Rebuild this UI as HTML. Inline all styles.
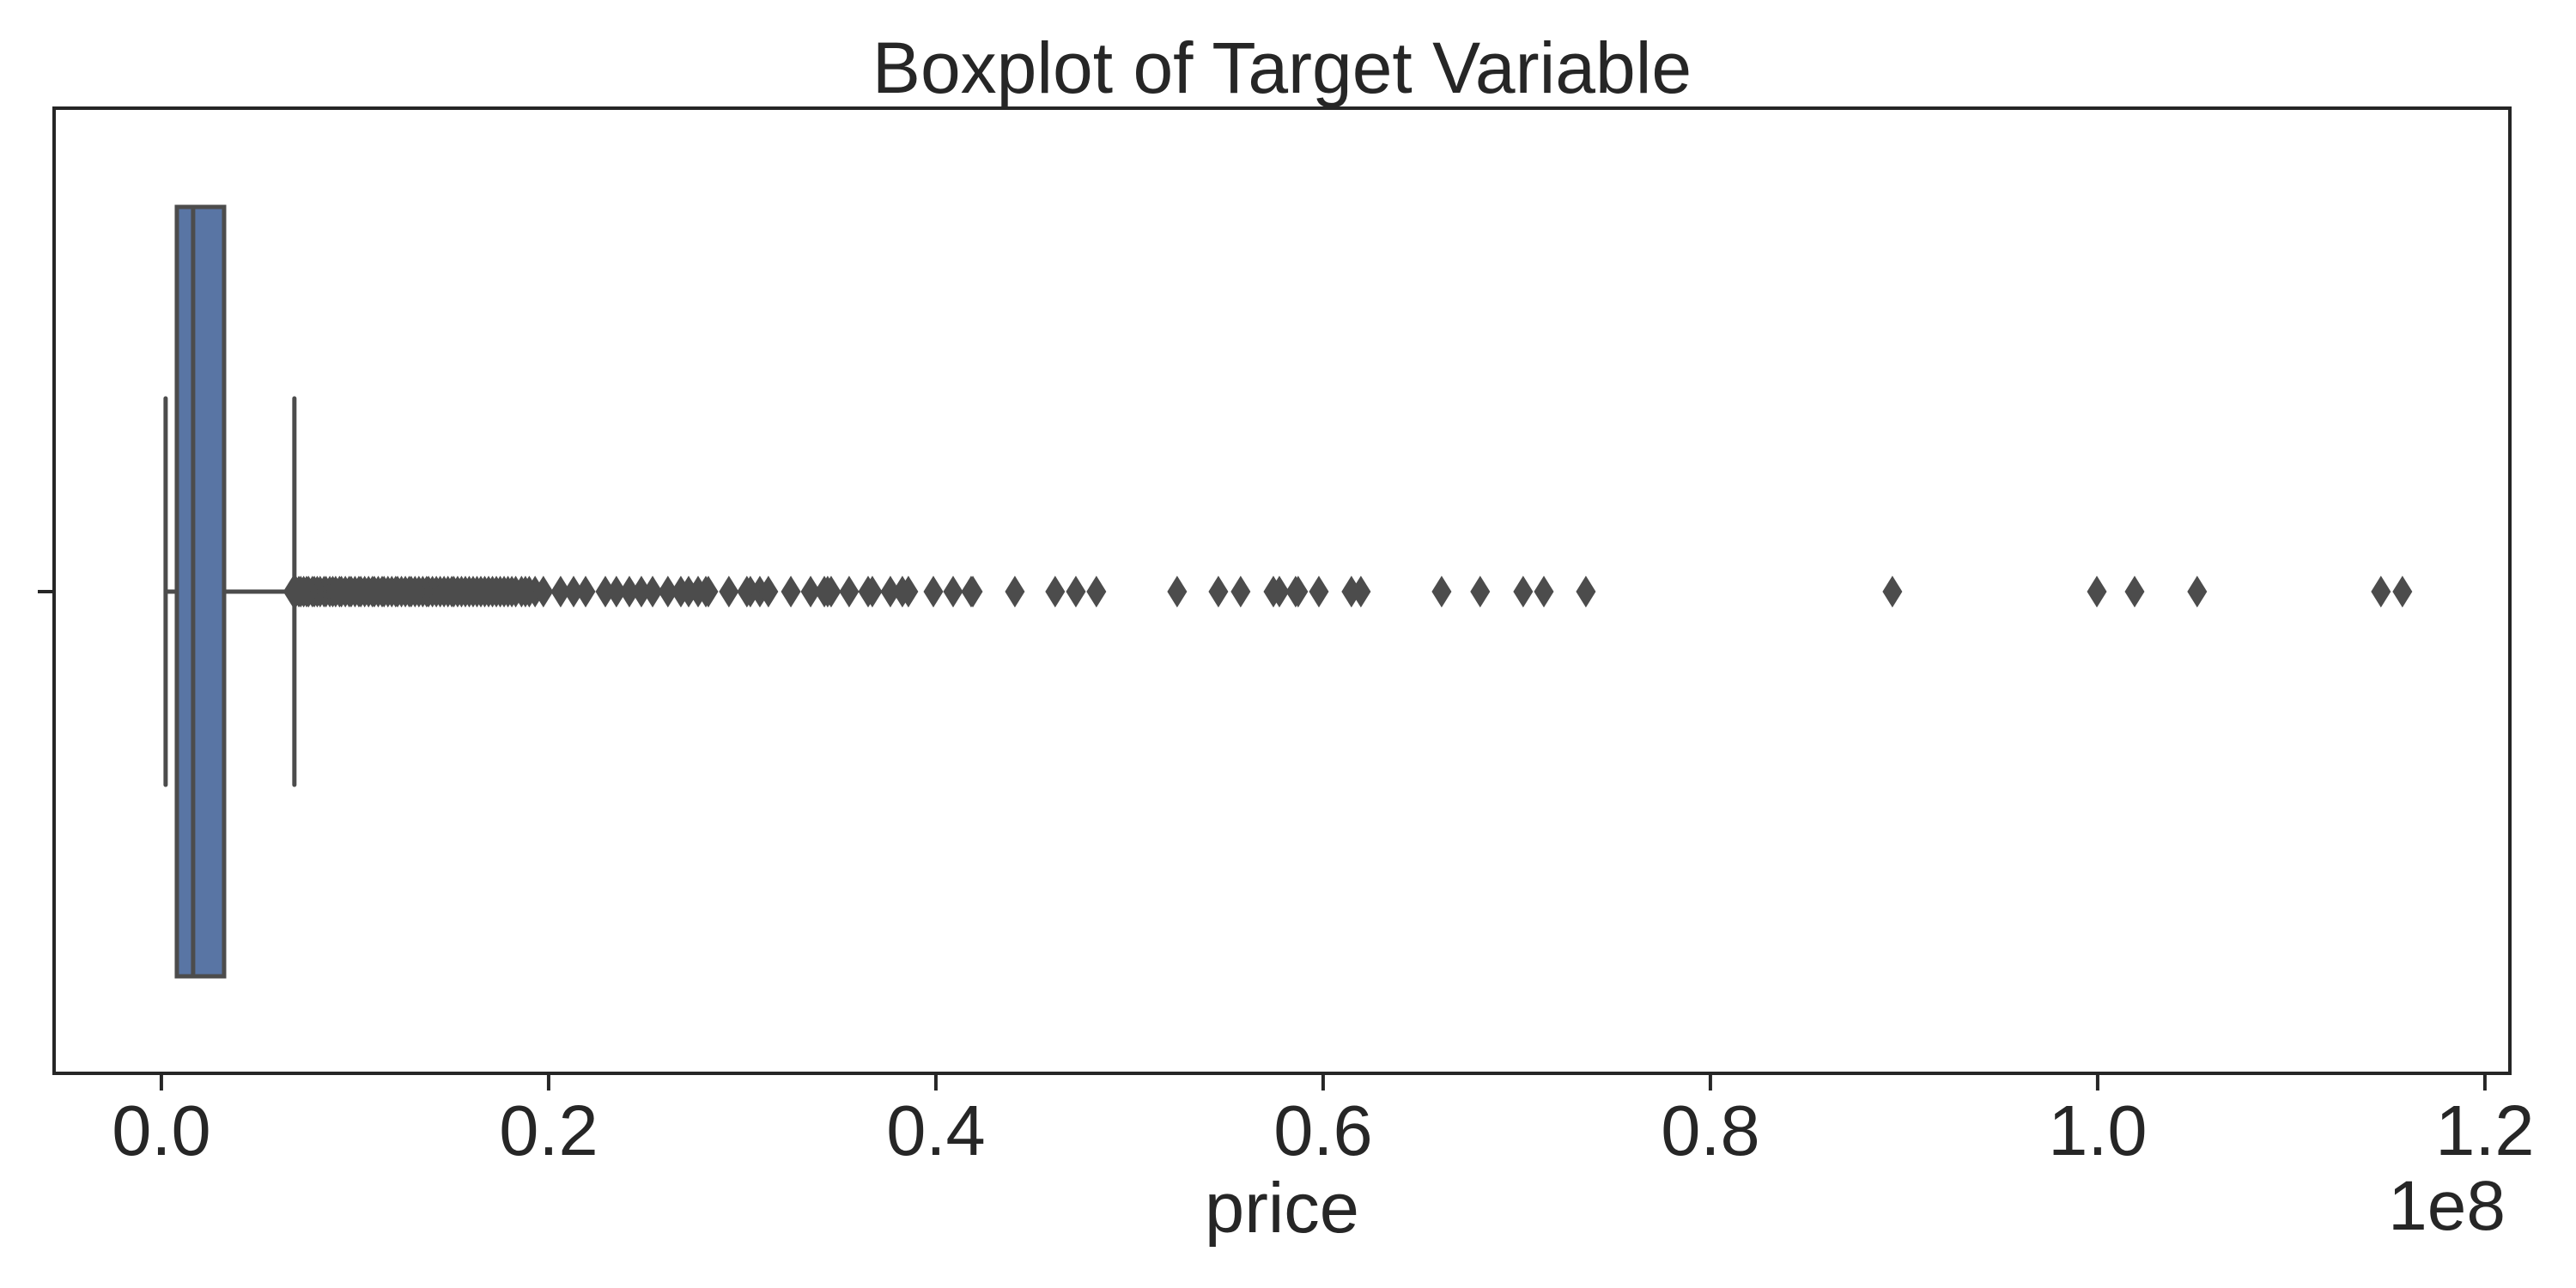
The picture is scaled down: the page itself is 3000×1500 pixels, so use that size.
<!DOCTYPE html>
<html><head><meta charset="utf-8"><style>
html,body{margin:0;padding:0;background:#fff;}
svg{display:block;font-family:"Liberation Sans",Arial,sans-serif;}
</style></head><body>
<svg id="chart" width="3000" height="1500" viewBox="0 0 3000 1500" xmlns="http://www.w3.org/2000/svg">
<rect x="0" y="0" width="3000" height="1500" fill="#ffffff"/>
<text x="1493" y="108" text-anchor="middle" font-size="84" fill="#262626">Boxplot of Target Variable</text>
<g id="marks"></g>
<rect x="63" y="126" width="2860" height="1124" fill="none" stroke="#262626" stroke-width="4"/>
<g id="xticks"></g>
<line x1="44" y1="689" x2="63" y2="689" stroke="#262626" stroke-width="4"/>
<text x="1493" y="1435" text-anchor="middle" font-size="83" fill="#262626">price</text>
<text x="2918" y="1432" text-anchor="end" font-size="82" fill="#262626">1e8</text>
</svg>
<script>
// values in units of 1e6
const stats = {q1: 0.80, median: 1.64, q3: 3.24, whiskerLow: 0.22, whiskerHigh: 6.87};
const tickValues = [0, 20, 40, 60, 80, 100, 120];
const tickLabels = ["0.0", "0.2", "0.4", "0.6", "0.8", "1.0", "1.2"];
const outliers = [
 6.8,6.95,7.1,7.2,7.35,7.5,7.6,7.8,7.9,8.05,8.2,8.4,8.5,8.7,8.85,9.0,9.2,9.3,9.5,9.7,9.8,10.0,10.2,10.3,10.5,10.7,10.9,11.0,11.2,11.4,11.5,11.7,11.9,12.1,12.2,12.4,12.6,12.8,12.9,13.1,13.3,13.5,13.7,13.8,14.0,14.2,14.4,14.6,14.8,15.0,15.1,15.3,15.5,15.7,15.9,16.1,16.3,16.5,16.7,16.9,17.1,17.3,17.5,17.7,17.9,18.1,18.3,18.6,18.8,19.0,19.3,
 19.73,20.62,21.29,21.91,22.93,23.50,24.17,24.79,25.37,26.16,26.83,27.23,27.72,28.12,28.25,29.31,30.24,30.42,30.91,31.35,32.51,33.53,34.24,34.41,34.59,35.52,36.50,36.72,37.65,38.27,38.58,39.87,40.89,41.82,41.91,44.08,46.16,47.23,48.29,
 52.46,54.59,55.74,57.43,57.74,58.58,58.71,59.78,61.46,61.95,66.12,68.11,70.33,71.40,73.57,89.40,99.96,101.91,105.14,114.63,115.74
];
const X0 = 63, X1 = 2923, D0 = -5.54, D1 = 121.29;
function xs(v){ return X0 + (v - D0) / (D1 - D0) * (X1 - X0); }
const cy = 689, boxHalf = 448, capHalf = 225;
const NS = "http://www.w3.org/2000/svg";
const marks = document.getElementById('marks');
function mk(tag, attrs, parent){ const e = document.createElementNS(NS, tag); for (const k in attrs) e.setAttribute(k, attrs[k]); parent.appendChild(e); return e; }
const col = "#4c4c4c";
let e;
e = mk('line', {x1: xs(stats.whiskerLow), y1: cy, x2: xs(stats.q1), y2: cy, stroke: col, 'stroke-width': 5}, marks);


e = mk('line', {x1: xs(stats.q3), y1: cy, x2: xs(stats.whiskerHigh), y2: cy, stroke: col, 'stroke-width': 5}, marks);


e = mk('line', {x1: xs(stats.whiskerLow), y1: cy - capHalf, x2: xs(stats.whiskerLow), y2: cy + capHalf, stroke: col, 'stroke-width': 5, 'stroke-linecap': 'round'}, marks);


e = mk('line', {x1: xs(stats.whiskerHigh), y1: cy - capHalf, x2: xs(stats.whiskerHigh), y2: cy + capHalf, stroke: col, 'stroke-width': 5, 'stroke-linecap': 'round'}, marks);


e = mk('rect', {x: xs(stats.q1), y: cy - boxHalf, width: xs(stats.q3) - xs(stats.q1), height: 2 * boxHalf, fill: '#5975a4', stroke: col, 'stroke-width': 5}, marks);


e = mk('line', {x1: xs(stats.median), y1: cy - boxHalf, x2: xs(stats.median), y2: cy + boxHalf, stroke: col, 'stroke-width': 5}, marks);


const og = mk('g', {}, marks);


outliers.forEach(v => {
  const x = xs(v);
  const p = mk('polygon', {points: `${x},${cy-18.5} ${x+11.5},${cy} ${x},${cy+18.5} ${x-11.5},${cy}`, fill: col}, og);
  
  
});
const xt = document.getElementById('xticks');
tickValues.forEach((v, i) => {
  const x = xs(v);
  const t = mk('line', {x1: x, y1: 1250, x2: x, y2: 1270, stroke: '#262626', 'stroke-width': 4}, xt);
  
  
  const l = mk('text', {x: x, y: 1345, 'text-anchor': 'middle', 'font-size': 83, fill: '#262626'}, xt);
  l.textContent = tickLabels[i];
  
  
});
</script>
</body></html>
